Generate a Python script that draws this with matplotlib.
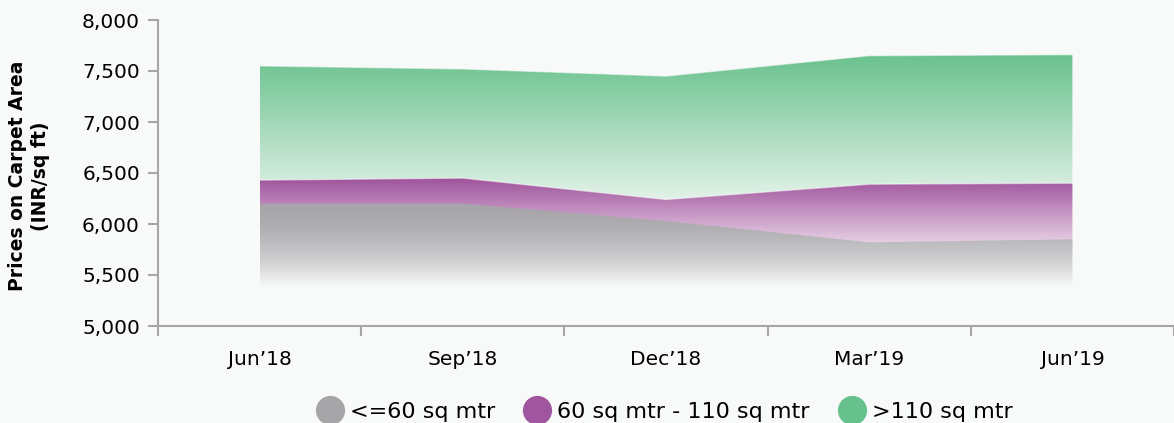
import numpy as np
import matplotlib
matplotlib.use("Agg")
import matplotlib.pyplot as plt
from matplotlib.colors import to_rgb
from matplotlib.lines import Line2D

plt.rcParams['font.family'] = ['DejaVu Sans']

# data
quarters = ["Jun’18", "Sep’18", "Dec’18", "Mar’19", "Jun’19"]
small = [6200, 6200, 6030, 5820, 5850]      # <=60 sq mtr
medium = [6430, 6450, 6240, 6390, 6400]     # 60 - 110 sq mtr
large = [7550, 7520, 7450, 7650, 7660]      # >110 sq mtr
labels = ["<=60 sq mtr", "60 sq mtr - 110 sq mtr", ">110 sq mtr"]

bg = "#f8faf9"
x = np.arange(len(quarters))
floor = 5380

fig = plt.figure(figsize=(11.74, 4.23), dpi=100, facecolor=bg)
ax = fig.add_axes([158/1174, 1-326/423, 1-158/1174, (326-20)/423])
ax.set_facecolor(bg)
ax.set_xlim(-0.5, 4.5)
ax.set_ylim(5000, 8000)


def gradient_area(vals, top_col, bot_col, y_top, y_bot, z, power=1.0, edge=True):
    # polygon used only as a clip path for the gradient image
    poly = ax.fill_between(x, vals, floor, facecolor='none', edgecolor='none', zorder=z)
    t = np.linspace(0, 1, 256)[:, None] ** power   # 0 at top, 1 at bottom
    c1 = np.array(to_rgb(top_col))
    c2 = np.array(to_rgb(bot_col))
    img = c1 * (1 - t) + c2 * t
    img = np.repeat(img[:, None, :], 2, axis=1)
    im = ax.imshow(img, extent=[x[0], x[-1], y_bot, y_top], aspect='auto',
                   origin='upper', zorder=z, interpolation='bilinear')
    im.set_clip_path(poly.get_paths()[0], transform=ax.transData)
    # below the gradient keep the end colour
    ax.fill_between(x, np.minimum(vals, y_bot), floor, color=bot_col, lw=0, zorder=z)
    if edge:
        ax.plot(x, vals, color='white', lw=1, alpha=0.5, zorder=z + 0.1)


gradient_area(large, "#66c08b", "#eaf5ee", 7700, 6150, 1)
gradient_area(medium, "#9e519b", "#f3e6f2", 6460, 5700, 2)
gradient_area(small, "#a7a5a9", bg, 6210, floor, 3, power=1.8, edge=False)

ax.set_xticks(x)
ax.set_xticklabels(quarters, fontsize=14.5)
ax.set_xticks(np.arange(-0.5, 5, 1), minor=True)
ax.tick_params(axis='x', which='major', length=0, pad=17)
ax.tick_params(axis='x', which='minor', length=7, width=1.5, color='#a6a6a6')

ax.set_yticks(np.arange(5000, 8001, 500))
ax.set_yticklabels([f"{v:,}" for v in range(5000, 8001, 500)], fontsize=14.5)
ax.tick_params(axis='y', length=7, width=1.5, color='#a6a6a6', pad=6)

for s in ['top', 'right']:
    ax.spines[s].set_visible(False)
for s in ['left', 'bottom']:
    ax.spines[s].set_color('#a6a6a6')
    ax.spines[s].set_linewidth(1.5)

fig.text(0.025, 0.584, "Prices on Carpet Area\n(INR/sq ft)", rotation=90,
         ha='center', va='center', fontsize=13.5, fontweight='bold',
         multialignment='center', linespacing=1.25)

cols = ["#a6a5a8", "#a0559f", "#66c18c"]
handles = [Line2D([], [], marker='o', ls='', markersize=20, color=c) for c in cols]
fig.legend(handles, labels, loc='lower center', bbox_to_anchor=(0.566, -0.045),
           ncol=3, frameon=False, fontsize=16, handletextpad=0.3,
           columnspacing=1.3, handlelength=1.2)

fig.savefig("out.png", dpi=100, facecolor=bg)
